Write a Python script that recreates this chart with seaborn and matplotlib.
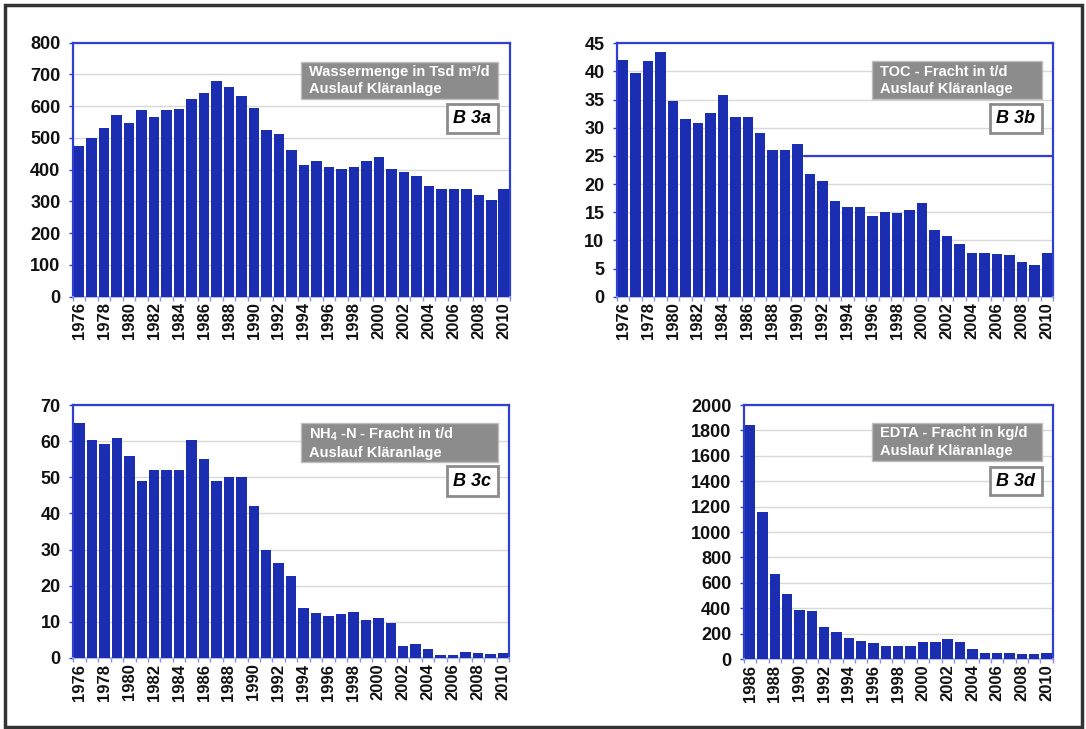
import numpy as np
import pandas as pd
import matplotlib
matplotlib.use("Agg")
import matplotlib.pyplot as plt
from matplotlib.patches import Rectangle
import seaborn as sns

years_a = list(range(1976, 2011))
water = [475, 500, 530, 572, 548, 588, 566, 588, 592, 622, 641, 678, 662, 633, 595,
         525, 512, 463, 415, 428, 407, 403, 410, 428, 440, 402, 392, 380, 348, 338,
         338, 338, 320, 305, 338]
toc = [42.0, 39.8, 41.8, 43.5, 34.8, 31.5, 30.9, 32.7, 35.9, 31.9, 31.9, 29.0, 26.0,
       26.0, 27.2, 21.8, 20.5, 17.0, 16.0, 15.9, 14.3, 15.0, 14.8, 15.4, 16.6, 11.8,
       10.7, 9.4, 7.7, 7.7, 7.5, 7.4, 6.2, 5.7, 7.7]
nh4 = [65, 60.3, 59.2, 61, 56, 49, 52, 52, 52, 60.3, 55, 49, 50, 50, 42, 30, 26.3,
       22.8, 13.7, 12.5, 11.6, 12.2, 12.6, 10.5, 11.2, 9.7, 3.4, 3.8, 2.6, 0.7, 0.9,
       1.6, 1.3, 1.0, 1.3]
years_d = list(range(1986, 2011))
edta = [1840, 1160, 670, 510, 385, 375, 255, 215, 165, 145, 130, 105, 105, 105, 135,
        135, 155, 135, 75, 50, 45, 50, 40, 40, 45]

titles = ["Wassermenge in Tsd m³/d\nAuslauf Kläranlage",
          "TOC - Fracht in t/d\nAuslauf Kläranlage",
          "NH$_4$ -N - Fracht in t/d\nAuslauf Kläranlage",
          "EDTA - Fracht in kg/d\nAuslauf Kläranlage"]
tags = ["B 3a", "B 3b", "B 3c", "B 3d"]
ylims = [(0, 800, 100), (0, 45, 5), (0, 70, 10), (0, 2000, 200)]

sns.set_theme(style="white")
plt.rcParams['font.family'] = ['Liberation Sans', 'DejaVu Sans']
plt.rcParams['mathtext.fontset'] = 'custom'
plt.rcParams['mathtext.rm'] = 'Liberation Sans:bold'
plt.rcParams['mathtext.it'] = 'Liberation Sans:bold'

BAR = "#1b2db0"
SPINE = "#2f3fd0"

fig = plt.figure(figsize=(10.86, 7.29), dpi=100)
fig.patch.set_facecolor("white")

# outer frame
fig.patches.append(Rectangle((0.005, 0.003), 0.991, 0.990, transform=fig.transFigure,
                             fill=False, edgecolor="#333333", linewidth=2.5))

positions = [
    [0.0672, 0.593, 0.4024, 0.3484],
    [0.5681, 0.593, 0.4015, 0.3476],
    [0.0675, 0.0974, 0.4012, 0.347],
    [0.6850, 0.0960, 0.2843, 0.3484],
]
boxes = [
    ((0.521, 0.9725, 0.778, 0.925), (0.855, 0.9725, 0.644, 0.759)),
    ((0.584, 0.975, 0.779, 0.930), (0.855, 0.975, 0.645, 0.760)),
    ((0.522, 0.975, 0.776, 0.928), (0.857, 0.975, 0.640, 0.759)),
    ((0.414, 0.964, 0.780, 0.928), (0.797, 0.964, 0.644, 0.757)),
]
datasets = [(years_a, water), (years_a, toc), (years_a, nh4), (years_d, edta)]

for i, ((yrs, vals), pos) in enumerate(zip(datasets, positions)):
    ax = fig.add_axes(pos)
    df = pd.DataFrame({"year": [str(y) for y in yrs], "val": vals})
    sns.barplot(data=df, x="year", y="val", color=BAR, saturation=1, width=0.84,
                ax=ax, zorder=3, edgecolor="none")
    lo, hi, step = ylims[i]
    ax.set_ylim(lo, hi)
    ax.set_yticks(np.arange(lo, hi + step / 2, step))
    ax.yaxis.grid(True, color="#d8d8d8", linewidth=1, zorder=0)
    ax.set_axisbelow(True)
    ax.set_xlim(-0.5, len(yrs) - 0.5)
    idx = list(range(0, len(yrs), 2))
    ax.set_xticks(idx)
    ax.set_xticklabels([str(yrs[k]) for k in idx], rotation=90, fontsize=12,
                       fontweight="bold", color="#111111")
    ax.set_xticks(np.arange(-0.5, len(yrs), 1), minor=True)
    ax.tick_params(axis="x", which="major", length=0, pad=4)
    ax.tick_params(axis="x", which="minor", length=3, color="#8a93d8", width=1,
                   direction="out", bottom=True)
    ax.tick_params(axis="y", length=3, color=SPINE, width=1, pad=6, labelsize=13,
                   left=True)
    for lab in ax.get_yticklabels():
        lab.set_fontweight("bold")
        lab.set_color("#111111")
    ax.set_xlabel("")
    ax.set_ylabel("")
    for s in ["top", "right", "left"]:
        ax.spines[s].set_visible(True)
        ax.spines[s].set_color(SPINE)
        ax.spines[s].set_linewidth(1.6)
    ax.spines["bottom"].set_color("#a8aee0")
    ax.spines["bottom"].set_linewidth(1.2)

    (gx0, gx1, gy0, gy1), (tx0, tx1, ty0, ty1) = boxes[i]
    ax.add_patch(Rectangle((gx0, gy0), gx1 - gx0, gy1 - gy0, transform=ax.transAxes,
                           facecolor="#8c8c8c", edgecolor="#bdbdbd", linewidth=1,
                           zorder=5))
    ax.text(gx0 + 0.02 * (0.4 / pos[2]), (gy0 + gy1) / 2, titles[i],
            transform=ax.transAxes, color="white", fontsize=10.5, fontweight="bold",
            va="center", ha="left", linespacing=1.3, zorder=6)
    ax.add_patch(Rectangle((tx0, ty0), tx1 - tx0, ty1 - ty0, transform=ax.transAxes,
                           facecolor="white", edgecolor="#8c8c8c", linewidth=2,
                           zorder=5))
    ax.text((tx0 + tx1) / 2, (ty0 + ty1) / 2, tags[i], transform=ax.transAxes,
            color="black", fontsize=13, fontweight="bold", fontstyle="italic",
            va="center", ha="center", zorder=6)

    if i == 1:
        k = yrs.index(1990)
        ax.axhline(25, xmin=(k + 0.5 + 0.5) / len(yrs), xmax=1, color=SPINE,
                   linewidth=1.6, zorder=4)

fig.savefig("out.png", dpi=100, facecolor="white")
